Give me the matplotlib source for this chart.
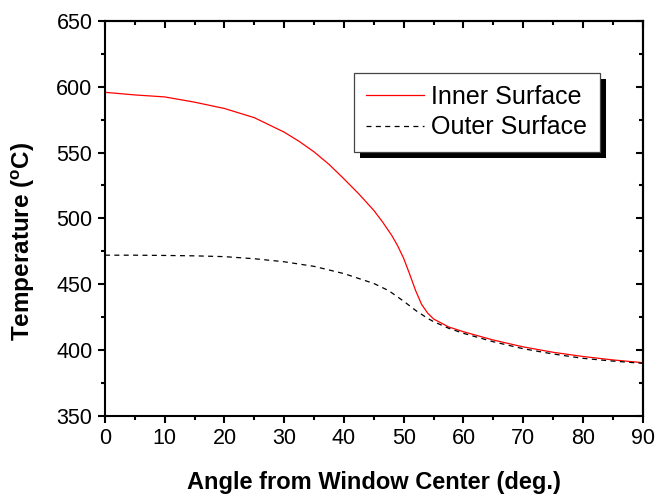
import matplotlib
matplotlib.use('Agg')
import matplotlib.pyplot as plt
from matplotlib.ticker import MultipleLocator
from matplotlib.patches import Rectangle

plt.rcParams['font.family'] = ['Liberation Sans', 'DejaVu Sans']
plt.rcParams['mathtext.fontset'] = 'custom'
plt.rcParams['mathtext.rm'] = 'Liberation Sans'
plt.rcParams['mathtext.bf'] = 'Liberation Sans:bold'

# values
angle_inner = [0, 2.5, 5, 10, 15, 20, 25, 30, 32.5, 35, 37.5, 40, 42.5, 45, 46.5, 48,
               49, 50, 51, 52, 53, 54, 55, 57.5, 60, 65, 70, 75, 80, 85, 90]
temp_inner = [595.8, 594.8, 593.8, 592.3, 588.3, 583.5, 576.5, 565.5, 558.5, 550.5,
              541.0, 530.0, 518.5, 506.0, 497.0, 487.0, 479.0, 469.5, 457.5, 445.0,
              434.5, 428.0, 423.5, 417.5, 413.8, 407.5, 402.3, 398.2, 395.0, 392.4,
              390.3]

angle_outer = [0, 5, 10, 15, 20, 25, 30, 35, 40, 45, 47.5, 50, 52, 54, 55, 57.5, 60,
               65, 70, 75, 80, 85, 90]
temp_outer = [472.0, 472.0, 471.8, 471.5, 470.9, 469.3, 467.0, 463.5, 458.0, 450.5,
              445.0, 437.0, 430.0, 424.0, 421.5, 416.5, 412.6, 406.2, 400.9, 396.9,
              393.6, 391.5, 389.8]

fig = plt.figure(figsize=(6.59, 5.0), dpi=100)
ax = fig.add_axes([0.1593, 0.1686, 0.816, 0.7894])

ax.plot(angle_inner, temp_inner, color='red', lw=0.9, label='Inner Surface')
ax.plot(angle_outer, temp_outer, color='black', lw=0.9, dashes=(4, 3.5),
        label='Outer Surface')

ax.set_xlim(0, 90)
ax.set_ylim(350, 650)
ax.xaxis.set_major_locator(MultipleLocator(10))
ax.xaxis.set_minor_locator(MultipleLocator(5))
ax.yaxis.set_major_locator(MultipleLocator(50))
ax.yaxis.set_minor_locator(MultipleLocator(25))

for sp in ax.spines.values():
    sp.set_linewidth(1.5)
ax.tick_params(which='major', direction='out', length=5, width=1.5, labelsize=15.5, pad=4)
ax.tick_params(which='minor', direction='out', length=3, width=1.5)

# mirrored ticks, pointing inwards
top = ax.secondary_xaxis('top')
top.xaxis.set_major_locator(MultipleLocator(10))
top.xaxis.set_minor_locator(MultipleLocator(5))
top.tick_params(which='major', direction='in', length=5, width=1.5, labeltop=False)
top.tick_params(which='minor', direction='in', length=3, width=1.5)
top.spines['top'].set_linewidth(1.5)
right = ax.secondary_yaxis('right')
right.yaxis.set_major_locator(MultipleLocator(50))
right.yaxis.set_minor_locator(MultipleLocator(25))
right.tick_params(which='major', direction='in', length=5, width=1.5, labelright=False)
right.tick_params(which='minor', direction='in', length=3, width=1.5)
right.spines['right'].set_linewidth(1.5)

ax.set_xlabel('Angle from Window Center (deg.)', fontsize=17, fontweight='bold', labelpad=16)
ax.set_ylabel(r'Temperature ($\mathbf{^o}$C)', fontsize=17.5, fontweight='bold')
ax.yaxis.set_label_coords(-0.126, 0.441)

leg = ax.legend(loc='upper left', bbox_to_anchor=(0.463, 0.869), borderaxespad=0,
                fontsize=18, fancybox=False, framealpha=1, edgecolor='#444444',
                handlelength=2.3, handletextpad=0.3, labelspacing=0.25, borderpad=0.5)
leg.get_frame().set_linewidth(0.9)

# drop shadow of the legend box
fig.canvas.draw()
bb = leg.get_window_extent()
shadow = Rectangle((bb.x0 + 6, bb.y0 - 6), bb.width, bb.height, transform=None,
                   facecolor='black', edgecolor='none', zorder=4)
ax.add_artist(shadow)
leg.set_zorder(5)

fig.savefig('out.png', dpi=100)
